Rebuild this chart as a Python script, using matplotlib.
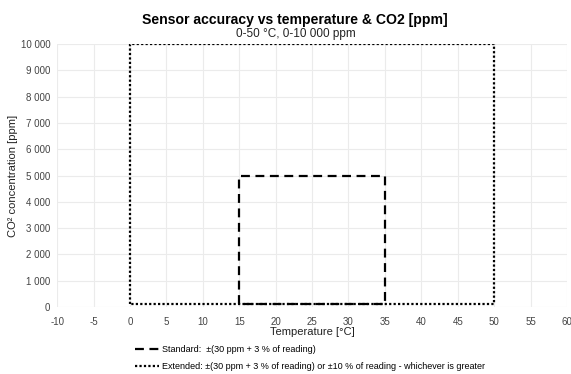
import matplotlib
matplotlib.use('Agg')
import matplotlib.pyplot as plt
from matplotlib.ticker import FuncFormatter

plt.rcParams['font.family'] = ['Liberation Sans', 'DejaVu Sans']
plt.rcParams['axes.unicode_minus'] = False

# Standard range: 15-35 degC, up to 5000 ppm
std_temp = [15, 15, 35, 35, 15]
std_co2 = [100, 5000, 5000, 100, 100]

# Extended range: 0-50 degC, up to 10000 ppm
ext_temp = [0, 0, 50, 50, 0]
ext_co2 = [100, 10000, 10000, 100, 100]

std_label = "Standard:  \u00b1(30 ppm + 3 % of reading)"
ext_label = "Extended: \u00b1(30 ppm + 3 % of reading) or \u00b110 % of reading - whichever is greater"

fig = plt.figure(figsize=(5.71, 3.74), dpi=100)
ax = fig.add_axes([0.1, 0.179, 0.893, 0.703])

ax.plot(ext_temp, ext_co2, color='black', linestyle=(0, (1, 1)), linewidth=1.6, label=ext_label)
ax.plot(std_temp, std_co2, color='black', linestyle=(0, (4, 2.5)), linewidth=1.6, label=std_label)

ax.set_xlim(-10, 60)
ax.set_ylim(0, 10000)
ax.set_xticks(range(-10, 61, 5))
ax.set_yticks(range(0, 10001, 1000))
ax.yaxis.set_major_formatter(FuncFormatter(lambda v, p: f"{int(v):,}".replace(',', ' ')))
ax.grid(True, color='#ebebeb', linewidth=0.8)
ax.set_axisbelow(True)
for s in ax.spines.values():
    s.set_visible(False)
ax.tick_params(length=0, labelsize=7, colors='#444444')
ax.tick_params(axis='x', pad=7)
ax.tick_params(axis='y', pad=5)

ax.set_xlabel("Temperature [\u00b0C]", fontsize=8, color='#222222', labelpad=0)
ax.set_ylabel("CO\u00b2 concentration [ppm]", fontsize=8, color='#222222', labelpad=2)

fig.text(0.516, 0.947, "Sensor accuracy vs temperature & CO2 [ppm]", ha='center', va='center',
         fontsize=10.1, fontweight='bold')
fig.text(0.518, 0.909, "0-50 \u00b0C, 0-10 000 ppm", ha='center', va='center',
         fontsize=8.5, color='#222222')

h, l = ax.get_legend_handles_labels()
fig.legend(h[::-1], l[::-1], loc='upper left', bbox_to_anchor=(0.237, 0.078), frameon=False,
           fontsize=6.5, handlelength=2.6, handletextpad=0.3, labelspacing=0.9,
           borderaxespad=0, borderpad=0)

fig.savefig('out.png', dpi=100)
